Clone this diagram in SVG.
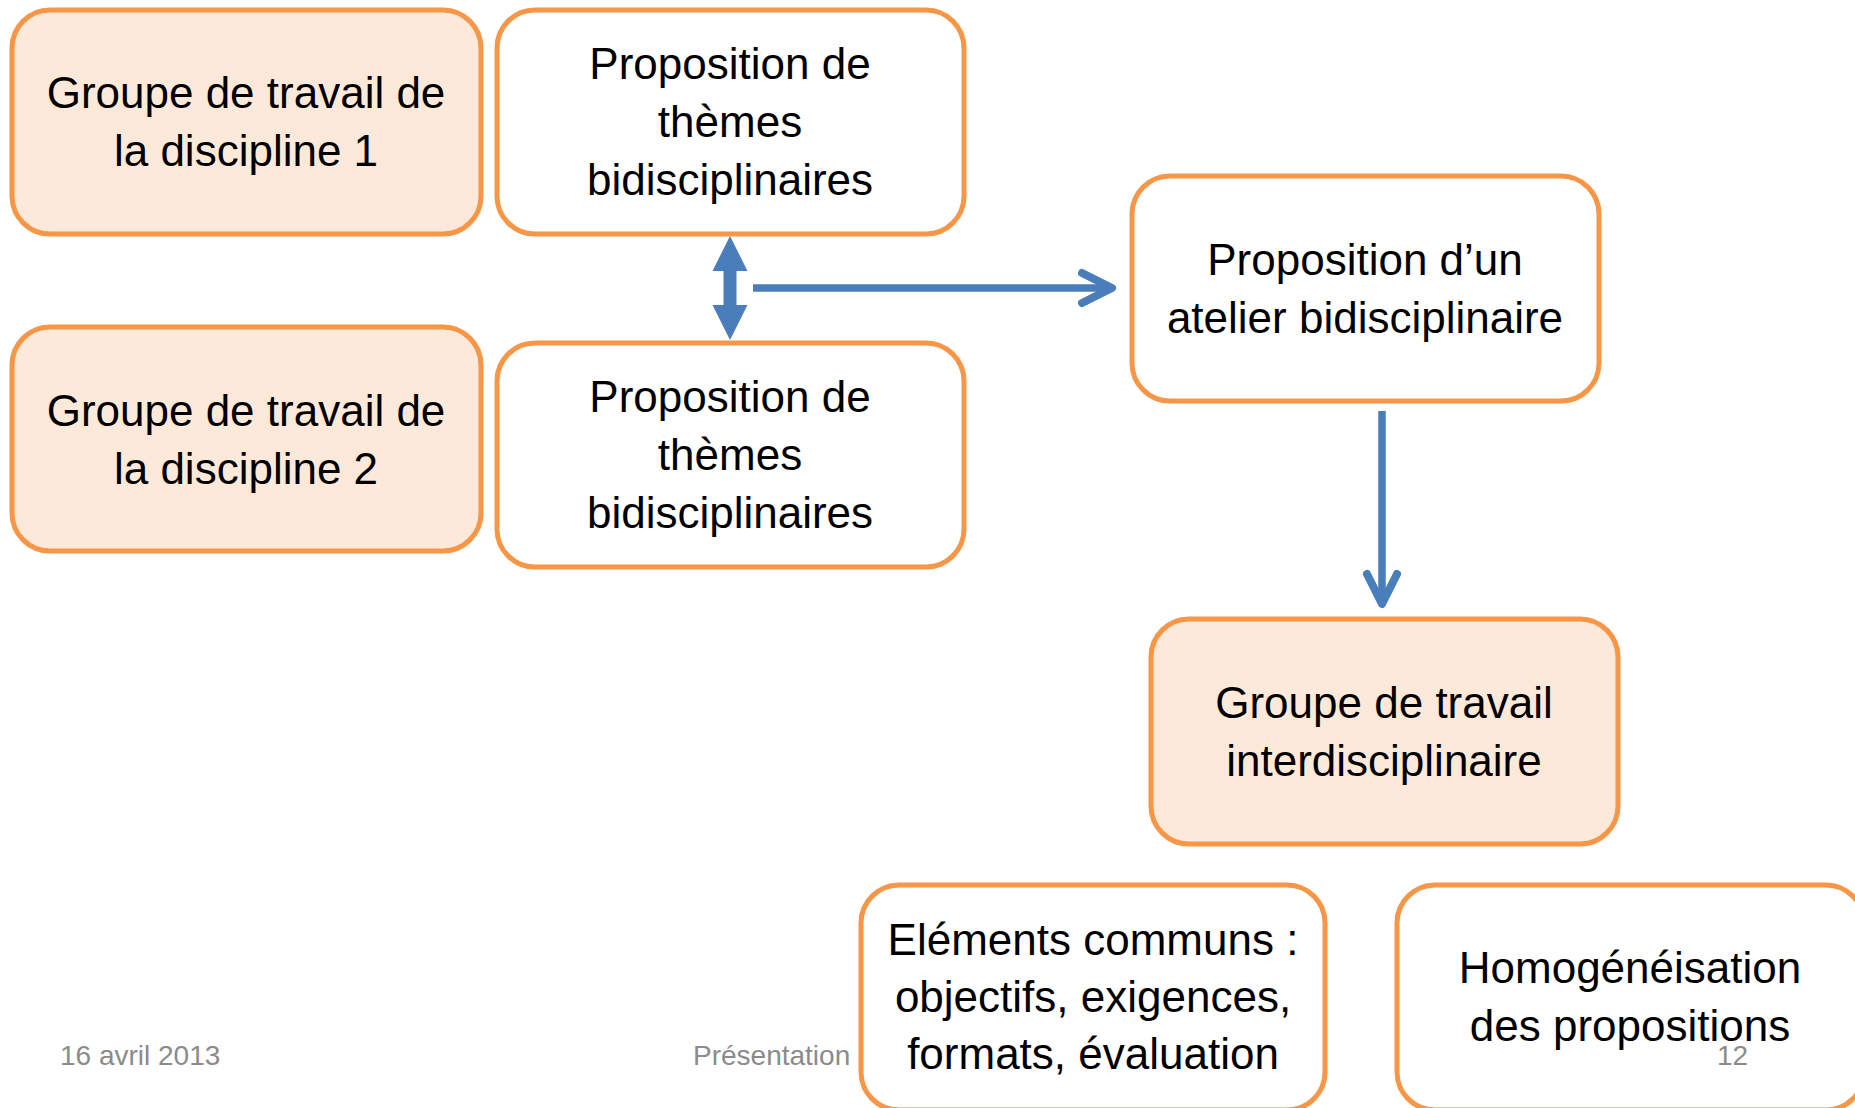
<svg xmlns="http://www.w3.org/2000/svg" width="1855" height="1108" viewBox="0 0 1855 1108">
  <defs>
    <style>
      .box { stroke: #F79646; stroke-width: 5; }
      .peach { fill: #FDE9D9; }
      .white { fill: #FFFFFF; }
      .lbl { font-family: "Liberation Sans", Arial, sans-serif; font-size: 44px; fill: #000000; text-anchor: middle; }
      .foot { font-family: "Liberation Sans", Arial, sans-serif; font-size: 28px; fill: #8B8B8B; }
      .conn { stroke: #4A7EBB; stroke-width: 7.5; fill: none; }
    </style>
    <marker id="chev" markerUnits="userSpaceOnUse" viewBox="-40 -22 46 44" refX="0" refY="0" markerWidth="46" markerHeight="44" orient="auto">
      <path d="M-30,-15 L0,0 L-30,15" fill="none" stroke="#4A7EBB" stroke-width="8" stroke-linecap="round" stroke-linejoin="round"/>
    </marker>
  </defs>
  <rect width="1855" height="1108" fill="#FFFFFF"/>

  <g id="connectors">
    <polygon points="730,236 747.5,271 736.5,271 736.5,305 747.5,305 730,340 712.5,305 723.5,305 723.5,271 712.5,271" fill="#4A7EBB"/>
    <line class="conn" x1="753" y1="288" x2="1112" y2="288" marker-end="url(#chev)"/>
    <line class="conn" x1="1382" y1="411" x2="1382" y2="604" marker-end="url(#chev)"/>
  </g>

  <g id="groupe1">
    <rect class="box peach" x="12" y="10" width="469" height="224" rx="38" ry="38"/>
    <text class="lbl" x="246" y="108">Groupe de travail de</text>
    <text class="lbl" x="246" y="166">la discipline 1</text>
  </g>

  <g id="proposition1">
    <rect class="box white" x="497" y="10" width="467" height="224" rx="38" ry="38"/>
    <text class="lbl" x="730" y="79">Proposition de</text>
    <text class="lbl" x="730" y="137">thèmes</text>
    <text class="lbl" x="730" y="195">bidisciplinaires</text>
  </g>

  <g id="groupe2">
    <rect class="box peach" x="12" y="327" width="469" height="224" rx="38" ry="38"/>
    <text class="lbl" x="246" y="426">Groupe de travail de</text>
    <text class="lbl" x="246" y="484">la discipline 2</text>
  </g>

  <g id="proposition2">
    <rect class="box white" x="497" y="343" width="467" height="224" rx="38" ry="38"/>
    <text class="lbl" x="730" y="412">Proposition de</text>
    <text class="lbl" x="730" y="470">thèmes</text>
    <text class="lbl" x="730" y="528">bidisciplinaires</text>
  </g>

  <g id="atelier">
    <rect class="box white" x="1132" y="176" width="467" height="225" rx="38" ry="38"/>
    <text class="lbl" x="1365" y="275">Proposition d’un</text>
    <text class="lbl" x="1365" y="333">atelier bidisciplinaire</text>
  </g>

  <g id="interdisciplinaire">
    <rect class="box peach" x="1151" y="619" width="467" height="225" rx="38" ry="38"/>
    <text class="lbl" x="1384" y="718">Groupe de travail</text>
    <text class="lbl" x="1384" y="776">interdisciplinaire</text>
  </g>

  <g id="elements">
    <rect class="box white" x="861" y="885" width="464" height="225" rx="38" ry="38"/>
    <text class="lbl" x="1093" y="955">Eléments communs :</text>
    <text class="lbl" x="1093" y="1012">objectifs, exigences,</text>
    <text class="lbl" x="1093" y="1069">formats, évaluation</text>
  </g>

  <g id="homogeneisation">
    <rect class="box white" x="1397" y="885" width="467" height="225" rx="38" ry="38"/>
    <text class="lbl" x="1630" y="983">Homogénéisation</text>
    <text class="lbl" x="1630" y="1041">des propositions</text>
  </g>

  <g id="footer">
    <text class="foot" x="60" y="1065">16 avril 2013</text>
    <text class="foot" x="693" y="1065">Présentation</text>
    <text class="foot" x="1717" y="1065">12</text>
  </g>
</svg>
